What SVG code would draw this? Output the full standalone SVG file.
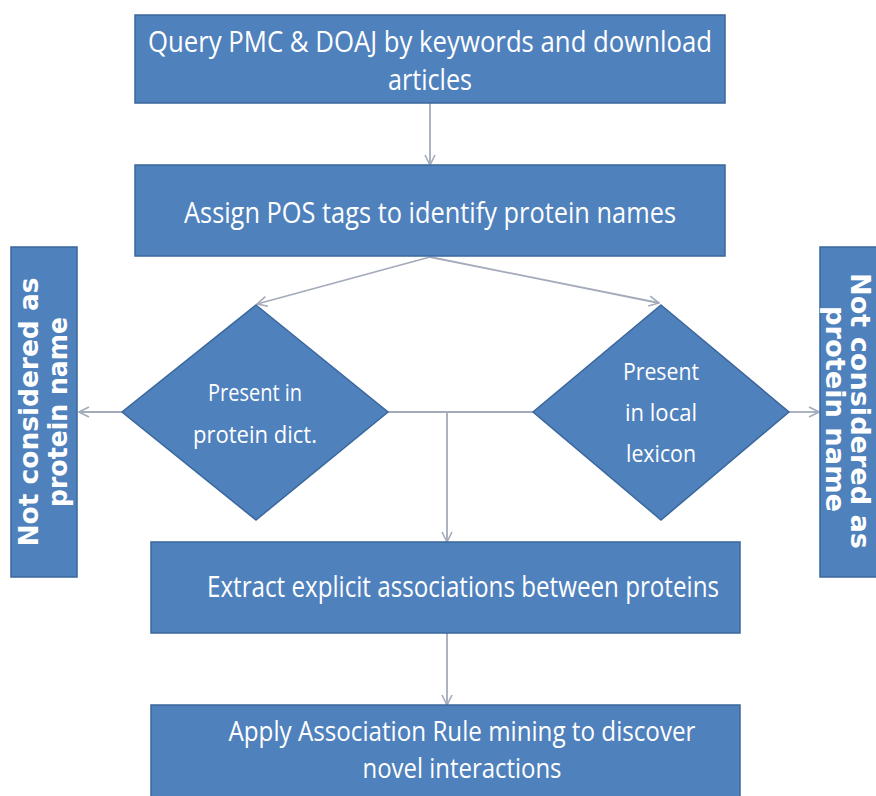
<svg xmlns="http://www.w3.org/2000/svg" width="876" height="796" viewBox="0 0 876 796">
<defs>
<style>
.box{fill:#4F81BD;stroke:#3A679C;stroke-width:1.5}
.t{fill:#ffffff;font-family:"Open Sans","Liberation Sans",sans-serif;font-size:30px;text-anchor:middle}
.t2{fill:#ffffff;font-family:"Open Sans","Liberation Sans",sans-serif;font-size:28px;text-anchor:middle}
.d{fill:#ffffff;font-family:"Open Sans","Liberation Sans",sans-serif;font-size:23px;text-anchor:middle}
.v{fill:#ffffff;font-family:"DejaVu Sans",sans-serif;font-weight:bold;font-size:26px;text-anchor:middle}
.c{fill:none;stroke:#A3AABA;stroke-width:1.8}
</style>
<marker id="arr" viewBox="0 0 12 12" refX="11" refY="6" markerWidth="12" markerHeight="12" markerUnits="userSpaceOnUse" orient="auto">
<path d="M1,1 L11,6 L1,11" fill="none" stroke="#A3AABA" stroke-width="1.6"/>
</marker>
</defs>
<rect width="876" height="796" fill="#ffffff"/>
<g id="connectors">
<line class="c" x1="430" y1="103" x2="430" y2="165" marker-end="url(#arr)"/>
<line class="c" x1="430" y1="257" x2="257" y2="304" marker-end="url(#arr)"/>
<line class="c" x1="430" y1="257" x2="659" y2="303" marker-end="url(#arr)"/>
<line class="c" x1="387" y1="412" x2="533" y2="412"/>
<line class="c" x1="447" y1="412" x2="447" y2="542" marker-end="url(#arr)"/>
<line class="c" x1="122" y1="412" x2="79" y2="412" marker-end="url(#arr)"/>
<line class="c" x1="789" y1="412" x2="819" y2="412" marker-end="url(#arr)"/>
<line class="c" x1="447" y1="633" x2="447" y2="705" marker-end="url(#arr)"/>
</g>
<g id="query">
<rect class="box" x="135" y="15" width="590" height="88"/>
<text class="t" x="430" y="52" textLength="564" lengthAdjust="spacingAndGlyphs">Query PMC &amp; DOAJ by keywords and download</text>
<text class="t" x="430" y="90" textLength="84" lengthAdjust="spacingAndGlyphs">articles</text>
</g>
<g id="assign">
<rect class="box" x="135" y="165" width="590" height="91"/>
<text class="t" x="430" y="223" textLength="492" lengthAdjust="spacingAndGlyphs">Assign POS tags to identify protein names</text>
</g>
<g id="dict">
<polygon class="box" points="256,305 388,412 256,520 122,412"/>
<text class="d" x="255" y="401" textLength="94" lengthAdjust="spacingAndGlyphs">Present in</text>
<text class="d" x="255" y="443" textLength="124" lengthAdjust="spacingAndGlyphs">protein dict.</text>
</g>
<g id="lexicon">
<polygon class="box" points="661,305 789,412 661,520 533,412"/>
<text class="d" x="661" y="380" textLength="76" lengthAdjust="spacingAndGlyphs">Present</text>
<text class="d" x="661" y="421" textLength="72" lengthAdjust="spacingAndGlyphs">in local</text>
<text class="d" x="661" y="462" textLength="70" lengthAdjust="spacingAndGlyphs">lexicon</text>
</g>
<g id="notleft">
<rect class="box" x="11" y="247" width="66" height="330"/>
<text class="v" transform="translate(38,412) rotate(-90)" textLength="269" lengthAdjust="spacingAndGlyphs">Not considered as</text>
<text class="v" transform="translate(67,412) rotate(-90)" textLength="190" lengthAdjust="spacingAndGlyphs">protein name</text>
</g>
<g id="notright">
<rect class="box" x="820" y="247" width="70" height="330"/>
<text class="v" transform="translate(851,411) rotate(90)" textLength="276" lengthAdjust="spacingAndGlyphs">Not considered as</text>
<text class="v" transform="translate(826,409) rotate(90)" textLength="206" lengthAdjust="spacingAndGlyphs">protein name</text>
</g>
<g id="extract">
<rect class="box" x="151" y="542" width="589" height="91"/>
<text class="t" x="463" y="597" textLength="512" lengthAdjust="spacingAndGlyphs">Extract explicit associations between proteins</text>
</g>
<g id="apply">
<rect class="box" x="151" y="705" width="589" height="95"/>
<text class="t2" x="462" y="741" textLength="467" lengthAdjust="spacingAndGlyphs">Apply Association Rule mining to discover</text>
<text class="t2" x="462" y="778" textLength="199" lengthAdjust="spacingAndGlyphs">novel interactions</text>
</g>
</svg>
